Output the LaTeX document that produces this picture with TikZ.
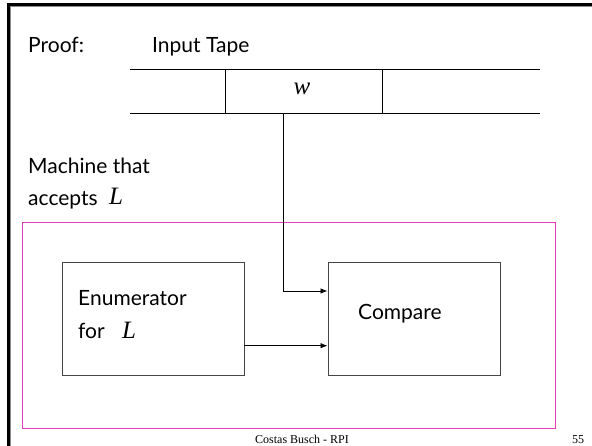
\documentclass[tikz,border=0pt]{standalone}
\usepackage{fontspec}
\setmainfont{Lato}
\newfontfamily\timesface{Liberation Serif}
\usetikzlibrary{arrows.meta}
\definecolor{framepink}{RGB}{232,60,190}
\definecolor{boxgray}{RGB}{70,70,70}
\begin{document}
\begin{tikzpicture}[x=1pt,y=-1pt,
  txt/.style={inner sep=0pt, anchor=base west, font=\fontsize{21}{24}\selectfont},
  mathsym/.style={inner sep=0pt, anchor=base west, font=\timesface\itshape\fontsize{25}{28}\selectfont},
  foot/.style={inner sep=0pt, anchor=base west, font=\timesface\fontsize{12}{14}\selectfont},
  block/.style={draw=boxgray, line width=0.9pt, inner sep=0pt, anchor=north west},
  tapeline/.style={line width=0.9pt},
  flow/.style={line width=0.8pt, -{Latex[length=7pt,width=5.5pt]}}
]
\useasboundingbox (0,0) rectangle (592,446);
\fill[white] (0,0) rectangle (592,446);

% slide frame (top and left edges) with its soft inner shadow
\draw[line width=1pt, black!45] (10,446) -- (10,7) -- (592,7);
\draw[line width=3pt] (8,446) -- (8,5) -- (592,5);

% headings
\node[txt] (proof) at (28,53) {Proof:};
\node[txt] (tapelabel) at (152,53) {Input Tape};

% input tape
\draw[tapeline] (130,69.5) -- (540,69.5);
\draw[tapeline] (130,113) -- (540,113);
\node[draw, tapeline, inner sep=0pt, anchor=north west,
      minimum width=157.5pt, minimum height=43.5pt] (cell) at (224.5,69.5) {};
\node[mathsym, anchor=base] (w) at (302,95) {w};
\coordinate (tap) at (283,113);

% machine label
\node[txt] (mach1) at (28,174) {Machine that};
\node[txt] (mach2) at (28,206) {accepts};
\node[mathsym] (mL) at (109,205) {L};

% machine boundary
\node[draw=framepink, line width=1.2pt, inner sep=0pt, anchor=north west,
      minimum width=533pt, minimum height=206pt] (machine) at (22,222) {};

% enumerator and comparator
\node[block, minimum width=182pt, minimum height=113.5pt] (enum) at (62,261.7) {};
\node[block, minimum width=172.5pt, minimum height=113.5pt] (cmp) at (327.5,261.7) {};
\node[txt] (enumtxt) at (78,306) {Enumerator};
\node[txt] (fortxt) at (78,339) {for};
\node[mathsym] (eL) at (122,339) {L};
\node[txt] (cmptxt) at (358,320) {Compare};

% connectors
\coordinate (cmpin1) at (327.5,291);
\coordinate (enumout) at (244,345.7);
\coordinate (cmpin2) at (327.5,345.7);
\draw[flow] (tap) |- (cmpin1);
\draw[flow] (enumout) -- (cmpin2);

% footer
\node[foot] (footer) at (255,443) {Costas Busch - RPI};
\node[foot] (page) at (572,443) {55};
\end{tikzpicture}
\end{document}
